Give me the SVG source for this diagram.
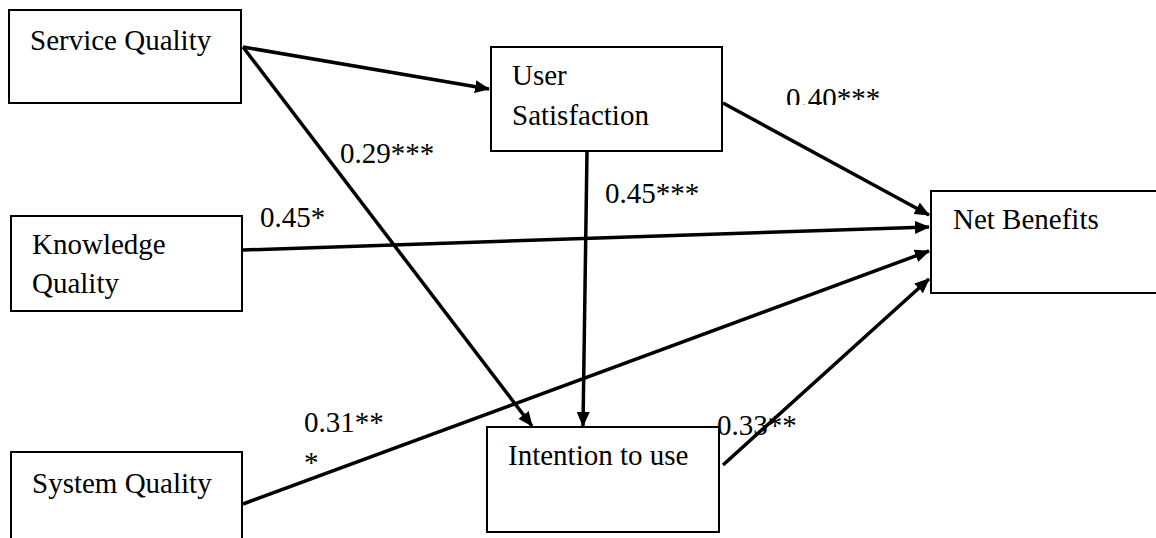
<svg xmlns="http://www.w3.org/2000/svg" width="1156" height="538" viewBox="0 0 1156 538">
<style>
.box{fill:#fff;stroke:#000;stroke-width:2}
.t{font-family:'Liberation Serif','Times New Roman','DejaVu Serif',serif;font-size:29px;fill:#000}
.c{stroke:#000;stroke-width:3.5;fill:none;marker-end:url(#ah)}
</style>
<defs>
<marker id="ah" markerUnits="userSpaceOnUse" markerWidth="16" markerHeight="14" refX="14" refY="6.5" orient="auto">
<path d="M0,0 L15,6.5 L0,13 z" fill="#000"/>
</marker>
<clipPath id="clip40"><rect x="770" y="70" width="150" height="35"/></clipPath>
</defs>
<rect width="1156" height="538" fill="#fff"/>
<g id="connectors">
<line class="c" x1="243" y1="47" x2="489" y2="89"/>
<line class="c" x1="243" y1="47" x2="532" y2="426"/>
<line class="c" x1="587" y1="151" x2="583" y2="426"/>
<line class="c" x1="723" y1="103" x2="929" y2="215"/>
<line class="c" x1="243" y1="250" x2="929" y2="227"/>
<line class="c" x1="243" y1="504" x2="929" y2="251"/>
<line class="c" x1="723" y1="465" x2="929" y2="279"/>
</g>
<g id="service-quality">
<rect class="box" x="9" y="10" width="232" height="93"/>
<text class="t" x="30" y="50" font-family="Liberation Serif, serif">Service Quality</text>
</g>
<g id="user-satisfaction">
<rect class="box" x="491" y="47" width="231" height="104"/>
<text class="t" x="512" y="85" font-family="Liberation Serif, serif">User</text>
<text class="t" x="512" y="125" font-family="Liberation Serif, serif">Satisfaction</text>
</g>
<g id="net-benefits">
<rect class="box" x="931" y="191" width="235" height="102"/>
<text class="t" x="953" y="229" font-family="Liberation Serif, serif">Net Benefits</text>
</g>
<g id="knowledge-quality">
<rect class="box" x="11" y="216" width="231" height="95"/>
<text class="t" x="32" y="254" font-family="Liberation Serif, serif">Knowledge</text>
<text class="t" x="32" y="293" font-family="Liberation Serif, serif">Quality</text>
</g>
<g id="system-quality">
<rect class="box" x="11" y="452" width="231" height="95"/>
<text class="t" x="32" y="493" font-family="Liberation Serif, serif">System Quality</text>
</g>
<g id="intention-to-use">
<rect class="box" x="487" y="427" width="232" height="105"/>
<text class="t" x="508" y="465" font-family="Liberation Serif, serif">Intention to use</text>
</g>
<g id="labels" font-family="Liberation Serif, serif">
<text class="t" x="340" y="163">0.29***</text>
<text class="t" x="786" y="108" clip-path="url(#clip40)">0.40***</text>
<text class="t" x="260" y="227">0.45*</text>
<text class="t" x="605" y="203">0.45***</text>
<text class="t" x="304" y="432">0.31**</text>
<text class="t" x="304" y="472">*</text>
<text class="t" x="717" y="435">0.33**</text>
</g>
</svg>
